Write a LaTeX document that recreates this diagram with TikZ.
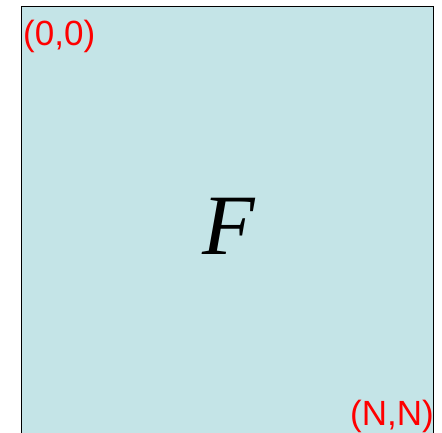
\documentclass[tikz,border=0pt]{standalone}
\usepackage{fontspec}
\setmainfont{Liberation Serif}
\newfontfamily\lblfont{Liberation Sans}
\definecolor{boxfill}{RGB}{196,228,231}
\definecolor{lblred}{RGB}{255,0,0}
\tikzset{
  lbl/.style={inner sep=0pt, text=lblred, font=\lblfont\fontsize{35}{35}\selectfont},
  mainbox/.style={draw=black, line width=1.5pt, fill=boxfill}
}
\begin{document}
\begin{tikzpicture}[x=1pt,y=1pt]
\useasboundingbox (0,0) rectangle (442,-432);
\clip (0,0) rectangle (442,-432);
\node[mainbox, minimum width=412pt, minimum height=440pt, anchor=north west, inner sep=0pt] (sq) at (20.5,-5.5) {};
\node[lbl, anchor=base west] (tl) at (23,-45) {(0,0)};
\node[lbl, anchor=base east] (br) at (434,-425) {(N,N)};
\node[inner sep=0pt, anchor=base, font=\fontsize{86}{86}\selectfont\itshape] (f) at (229,-254) {F};
\end{tikzpicture}
\end{document}
